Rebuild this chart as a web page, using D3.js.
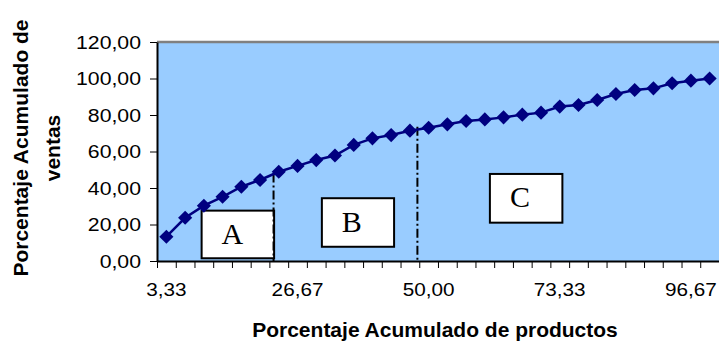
<!DOCTYPE html>
<html>
<head>
<meta charset="utf-8">
<script src="https://cdn.jsdelivr.net/npm/d3@7/dist/d3.min.js"></script>
<style>
  html, body { margin: 0; padding: 0; background: #ffffff; }
  svg { display: block; }
</style>
</head>
<body>
<div id="chart"></div>
<script>
// ---- data ----
const products = [3.33, 6.67, 10.00, 13.33, 16.67, 20.00, 23.33, 26.67, 30.00, 33.33,
                  36.67, 40.00, 43.33, 46.67, 50.00, 53.33, 56.67, 60.00, 63.33, 66.67,
                  70.00, 73.33, 76.67, 80.00, 83.33, 86.67, 90.00, 93.33, 96.67, 100.00];
const sales = [13.3, 23.7, 30.3, 35.2, 40.7, 44.4, 48.9, 52.1, 55.3, 57.8,
               63.6, 67.2, 69.0, 71.4, 73.0, 74.9, 76.7, 77.6, 78.7, 80.2,
               81.3, 84.6, 85.5, 88.2, 91.5, 93.7, 94.6, 97.4, 98.8, 100.0];
const xTickValues = [3.33, 26.67, 50.00, 73.33, 96.67];
const xTickLabels = ["3,33", "26,67", "50,00", "73,33", "96,67"];
const yTickValues = [0, 20, 40, 60, 80, 100, 120];
const yTickLabels = ["0,00", "20,00", "40,00", "60,00", "80,00", "100,00", "120,00"];
// class boundaries (product %, sales % at top of the line)
const cutX = [22.4, 48.0];
const cutY = [48.0, 73.6];
// class label boxes (product % from/to, sales % from/to)
const classNames = ["A", "B", "C"];
const boxX0 = [9.6, 31.0, 60.9];
const boxX1 = [22.5, 43.85, 73.8];
const boxY0 = [1.5, 7.8, 21.0];
const boxY1 = [27.6, 34.4, 47.7];

// ---- layout ----
const W = 719, H = 342;
const mLeft = 157, mRight = 719, mTop = 42, mBottom = 261;
const step = products[1] - products[0];

const svg = d3.select("#chart").append("svg").attr("width", W).attr("height", H);

const x = d3.scaleLinear()
  .domain([products[0] - step / 2, products[products.length - 1] + step / 2])
  .range([mLeft, mRight]);
const y = d3.scaleLinear().domain([0, 120]).range([mBottom, mTop]);

// plot area
svg.append("rect").attr("x", mLeft).attr("y", mTop)
  .attr("width", mRight - mLeft).attr("height", mBottom - mTop)
  .attr("fill", "#99CCFF");
svg.append("line").attr("x1", mLeft).attr("x2", mRight).attr("y1", mTop).attr("y2", mTop)
  .attr("stroke", "#808080").attr("stroke-width", 2.5);

// boxes
classNames.forEach((c, i) => {
  const bx = x(boxX0[i]), by = y(boxY1[i]);
  svg.append("rect").attr("x", bx).attr("y", by)
    .attr("width", x(boxX1[i]) - bx).attr("height", y(boxY0[i]) - by)
    .attr("fill", "#ffffff").attr("stroke", "#000000").attr("stroke-width", 2);
  svg.append("text").attr("x", bx + 20).attr("y", by + 33.5)
    .attr("font-family", "'Liberation Serif', 'Times New Roman', serif")
    .attr("font-size", 30).attr("fill", "#000").text(c);
});

// cut lines
cutX.forEach((cx, i) => {
  svg.append("line").attr("x1", x(cx)).attr("x2", x(cx))
    .attr("y1", y(cutY[i])).attr("y2", y(0))
    .attr("stroke", "#000").attr("stroke-width", 2)
    .attr("stroke-dasharray", "9,3,2,3");
});

// series line
const line = d3.line().x((d, i) => x(products[i])).y(d => y(d));
svg.append("path").datum(sales).attr("d", line)
  .attr("fill", "none").attr("stroke", "#000080").attr("stroke-width", 2.5);
svg.selectAll(".pt").data(sales).enter().append("path")
  .attr("class", "pt")
  .attr("transform", (d, i) => `translate(${x(products[i])},${y(d)}) rotate(45)`)
  .attr("d", d3.symbol().type(d3.symbolSquare).size(100)())
  .attr("fill", "#000080");

// axes
const boundaries = products.map(p => p - step / 2).concat([products[products.length - 1] + step / 2]);
const xAxis = svg.append("g").attr("transform", `translate(0,${mBottom})`)
  .call(d3.axisBottom(x).tickValues(boundaries).tickFormat("").tickSizeInner(7).tickSizeOuter(0));
const yAxis = svg.append("g").attr("transform", `translate(${mLeft},0)`)
  .call(d3.axisLeft(y).tickValues(yTickValues).tickFormat("").tickSizeInner(7).tickSizeOuter(0));
[xAxis, yAxis].forEach(g => {
  g.select(".domain").attr("stroke", "#000").attr("stroke-width", 2);
  g.selectAll(".tick line").attr("stroke", "#000").attr("stroke-width", 1);
});

function stretch(sel, k) {
  sel.each(function () {
    const w = this.getComputedTextLength();
    d3.select(this).attr("textLength", w * k).attr("lengthAdjust", "spacingAndGlyphs");
  });
}

const tickFont = "'Liberation Sans', Arial, sans-serif";
const xl = svg.append("g").selectAll("text").data(xTickValues).enter().append("text")
  .attr("x", d => x(d)).attr("y", 296).attr("text-anchor", "middle")
  .attr("font-family", tickFont).attr("font-size", 18).attr("fill", "#000")
  .text((d, i) => xTickLabels[i]);
stretch(xl, 1.15);
const yl = svg.append("g").selectAll("text").data(yTickValues).enter().append("text")
  .attr("x", 141).attr("y", d => y(d) + 6.5).attr("text-anchor", "end")
  .attr("font-family", tickFont).attr("font-size", 18).attr("fill", "#000")
  .text((d, i) => yTickLabels[i]);
stretch(yl, 1.18);

// titles
svg.append("text").attr("x", 435).attr("y", 337).attr("text-anchor", "middle")
  .attr("font-family", tickFont).attr("font-weight", "bold").attr("font-size", 21)
  .attr("fill", "#000").text("Porcentaje Acumulado de productos");
const yt = svg.append("text").attr("transform", "translate(0,148) rotate(-90)")
  .attr("text-anchor", "middle")
  .attr("font-family", tickFont).attr("font-weight", "bold").attr("font-size", 21)
  .attr("fill", "#000");
yt.append("tspan").attr("x", 0).attr("y", 27.5).text("Porcentaje Acumulado de");
yt.append("tspan").attr("x", 0).attr("y", 60).text("ventas");
</script>
</body>
</html>
